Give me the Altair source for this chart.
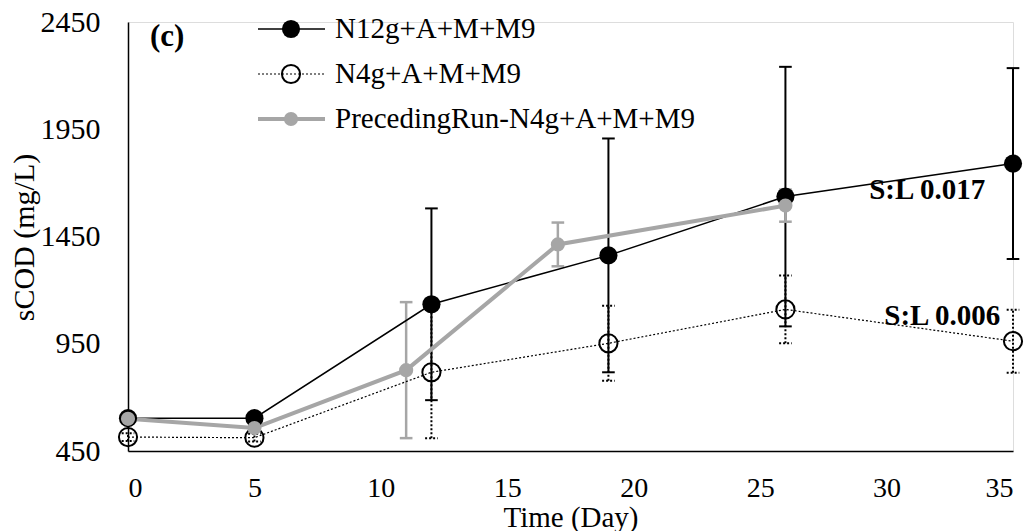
import altair as alt
import pandas as pd

# ---- data ----
n12_days = [0, 5, 12, 19, 26, 35]
n12_mean = [603, 603, 1134, 1362, 1636, 1790]
n12_err = [0, 0, 447, 545, 605, 445]

n4_days = [0, 5, 12, 19, 26, 35]
n4_mean = [515, 512, 817, 952, 1110, 962]
n4_err = [18, 18, 307, 175, 158, 147]

prev_days = [0, 5, 11, 17, 26]
prev_mean = [600, 557, 827, 1413, 1594]
prev_err = [0, 0, 317, 102, 75]

legend_labels = ["N12g+A+M+M9", "N4g+A+M+M9", "PrecedingRun-N4g+A+M+M9"]
annot_text = ["S:L 0.017", "S:L 0.006"]
annot_day = [33.9, 34.5]
annot_val = [1667, 1079]

x_ticks = [0, 5, 10, 15, 20, 25, 30, 35]
y_ticks = [450, 950, 1450, 1950, 2450]

FONT = "Liberation Serif"
GRAY = "#A6A6A6"


def frame(days, mean, err):
    return pd.DataFrame({
        "day": days,
        "val": mean,
        "lo": [m - e for m, e in zip(mean, err)],
        "hi": [m + e for m, e in zip(mean, err)],
        "err": err,
    })


d12 = frame(n12_days, n12_mean, n12_err)
d4 = frame(n4_days, n4_mean, n4_err)
dp = frame(prev_days, prev_mean, prev_err)

xs = alt.Scale(domain=[0, 35], nice=False, zero=False)
ys = alt.Scale(domain=[450, 2450], nice=False, zero=False)

AX = alt.Axis(
    values=x_ticks, format="d", title="Time (Day)",
    labelFont=FONT, titleFont=FONT,
    labelFontSize=28, labelPadding=23, titleFontSize=29, titleY=75,
    titleBaseline="alphabetic")
AY = alt.Axis(
    values=y_ticks, format="d", title="sCOD (mg/L)",
    labelFont=FONT, titleFont=FONT,
    labelFontSize=30, labelPadding=28, titleFontSize=30, titleX=-95, titleY=215,
    titleBaseline="alphabetic")


def xenc(field):
    return alt.X(field, scale=xs, axis=AX, title="Time (Day)")


def yenc(field):
    return alt.Y(field, scale=ys, axis=AY, title="sCOD (mg/L)")


X = xenc("day:Q")
Y = yenc("val:Q")


def errbars(df, color, width, dash=None, half=0.25):
    base = alt.Chart(df).transform_filter("datum.err > 0").transform_calculate(
        xl=f"datum.day - {half}", xr=f"datum.day + {half}")
    kw = dict(color=color, strokeWidth=width)
    if dash:
        kw["strokeDash"] = dash
    v = base.mark_rule(**kw).encode(x=X, y=yenc("lo:Q"), y2="hi:Q")
    top = base.mark_rule(**kw).encode(x=xenc("xl:Q"), x2="xr:Q", y=yenc("hi:Q"))
    bot = base.mark_rule(**kw).encode(x=xenc("xl:Q"), x2="xr:Q", y=yenc("lo:Q"))
    return v + top + bot


# N12g
e12 = errbars(d12, "black", 2)
l12 = alt.Chart(d12).mark_line(color="black", strokeWidth=1.5).encode(x=X, y=Y)
p12 = alt.Chart(d12).mark_point(filled=True, color="black", size=330, opacity=1, shape="circle").encode(x=X, y=Y)

# N4g
e4 = errbars(d4, "black", 2, dash=[2, 2])
l4 = alt.Chart(d4).mark_line(color="black", strokeWidth=1.2, strokeDash=[2, 2]).encode(x=X, y=Y)
p4 = alt.Chart(d4).mark_point(filled=False, color="black", size=330, strokeWidth=2, opacity=1, shape="circle").encode(x=X, y=Y)

# Preceding run
ep = errbars(dp, GRAY, 2.5)
lp = alt.Chart(dp).mark_line(color=GRAY, strokeWidth=4).encode(x=X, y=Y)
pp = alt.Chart(dp).mark_point(filled=True, color=GRAY, size=200, opacity=1, shape="circle").encode(x=X, y=Y)

# annotations
ann_df = pd.DataFrame({"day": annot_day, "val": annot_val, "t": annot_text})
ann = alt.Chart(ann_df).mark_text(font=FONT, fontSize=29, fontWeight="bold", align="right",
                                  baseline="middle", color="black").encode(
    x=X, y=Y, text="t:N")

panel = alt.Chart(pd.DataFrame({"t": ["(c)"]})).mark_text(
    font=FONT, fontSize=31, fontWeight="bold", align="left", baseline="middle", color="black").encode(
    x=alt.value(22), y=alt.value(15), text="t:N")

# legend (hand-built)
leg_y = [7, 52, 97]
leg = []
styles = [
    dict(line=dict(color="black", strokeWidth=1.5), pt=dict(filled=True, color="black", size=330)),
    dict(line=dict(color="black", strokeWidth=1.2, strokeDash=[2, 2]), pt=dict(filled=False, color="black", size=330, strokeWidth=2)),
    dict(line=dict(color=GRAY, strokeWidth=4), pt=dict(filled=True, color=GRAY, size=200)),
]
for lab, yy, st in zip(legend_labels, leg_y, styles):
    one = pd.DataFrame({"t": [lab]})
    leg.append(alt.Chart(one).mark_rule(**st["line"]).encode(
        x=alt.value(130), x2=alt.value(197), y=alt.value(yy)))
    leg.append(alt.Chart(one).mark_point(shape="circle", opacity=1, **st["pt"]).encode(
        x=alt.value(163), y=alt.value(yy)))
    leg.append(alt.Chart(one).mark_text(font=FONT, fontSize=29, align="left", baseline="middle",
                                        color="black").encode(
        x=alt.value(207), y=alt.value(yy), text="t:N"))

chart = alt.layer(
    e12, e4, ep, l12, l4, lp, p12, p4, pp, ann, panel, *leg
).properties(
    width=885, height=429,
    autosize=alt.AutoSizeParams(type="none"),
    padding={"left": 128, "top": 22, "right": 21, "bottom": 80},
).configure_view(stroke="transparent", strokeWidth=0).configure(background="white").configure_axis(
    grid=False, ticks=False, tickSize=0,
    labelFont=FONT, labelColor="black",
    domainColor="black", domainWidth=1.5,
    titleFont=FONT, titleFontWeight="normal", titleColor="black",
)

chart.save("out.html", embed_options={"renderer": "svg", "actions": False})
